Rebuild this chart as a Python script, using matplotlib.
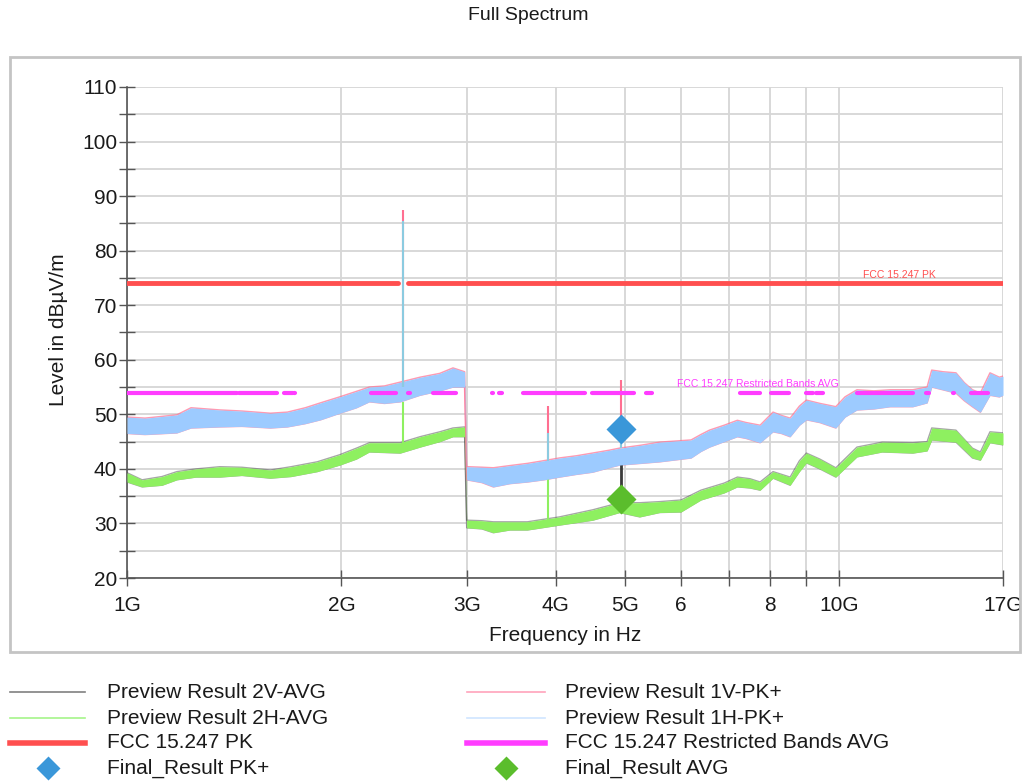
import numpy as np
import matplotlib
matplotlib.use("Agg")
import matplotlib.pyplot as plt
from matplotlib.lines import Line2D
from matplotlib.patches import Rectangle
from matplotlib.ticker import FixedLocator, NullLocator, MultipleLocator

plt.rcParams['font.family'] = ['Liberation Sans', 'DejaVu Sans']

# --- datos (frecuencia en GHz, nivel en dBµV/m) ---
# banda PK+ (1V / 1H): límite inferior y superior del ruido
pk_freq = [1.00, 1.06, 1.175, 1.23, 1.35, 1.45, 1.59, 1.68, 1.78, 1.87, 1.99, 2.10, 2.19, 2.30,
           2.42, 2.58, 2.75, 2.87, 2.98,
           3.00, 3.15, 3.27, 3.45, 3.65, 3.85, 4.05, 4.28, 4.51, 4.75, 4.92, 5.25, 5.60, 6.20,
           6.40, 6.58, 6.90, 7.20, 7.40, 7.75, 8.08, 8.30, 8.54, 8.80, 9.00, 9.40, 9.90, 10.20,
           10.60, 11.20, 11.80, 12.70, 13.30, 13.50, 14.00, 14.60, 15.00, 15.40, 15.80, 16.30,
           16.80, 17.00]
pk_lo = [46.5, 46.3, 46.6, 47.5, 47.7, 47.8, 47.5, 47.7, 48.3, 49.0, 50.2, 51.2, 52.3, 52.0,
         52.3, 53.5, 54.3, 55.0, 55.0,
         38.0, 37.5, 36.7, 37.3, 37.6, 38.0, 38.5, 39.0, 39.4, 40.2, 40.7, 41.0, 41.3, 42.0,
         43.2, 44.0, 45.0, 45.9, 45.6, 44.8, 46.8, 46.5, 45.9, 48.0, 49.0, 48.5, 47.5, 49.5,
         50.8, 51.0, 51.4, 51.4, 52.1, 55.0, 54.5, 53.9, 52.5, 51.4, 50.4, 53.5,
         53.2, 53.5]
pk_hi = [49.5, 49.3, 49.9, 51.2, 50.8, 50.6, 50.2, 50.4, 51.2, 52.1, 53.2, 54.2, 55.0, 55.2,
         55.9, 56.8, 57.5, 58.5, 57.8,
         40.4, 40.3, 40.2, 40.6, 41.0, 41.5, 42.0, 42.4, 42.9, 43.4, 43.8, 44.3, 44.9, 45.3,
         46.3, 47.1, 48.0, 48.9, 48.5, 48.0, 50.4, 49.8, 49.3, 51.5, 52.6, 52.0, 51.4, 53.2,
         54.5, 54.3, 54.5, 54.5, 55.0, 58.1, 57.8, 57.6, 55.8, 54.5, 53.9, 57.6,
         56.8, 57.0]

# banda AVG (2V / 2H)
avg_freq = [1.00, 1.05, 1.12, 1.175, 1.25, 1.35, 1.45, 1.59, 1.70, 1.85, 1.99, 2.10, 2.19,
            2.30, 2.42, 2.58, 2.75, 2.87, 2.98,
            3.00, 3.15, 3.27, 3.45, 3.65, 4.05, 4.51, 4.92, 5.25, 5.60, 6.00, 6.40, 6.90, 7.20,
            7.50, 7.75, 8.08, 8.54, 8.80, 9.00, 9.40, 9.90, 10.60, 11.50, 12.70, 13.30, 13.50,
            14.60, 15.40, 15.80, 16.30, 17.00]
avg_lo = [37.6, 36.7, 37.0, 38.0, 38.5, 38.5, 38.8, 38.3, 38.6, 39.5, 40.7, 41.8, 43.1,
          43.0, 42.9, 44.0, 45.0, 45.9, 45.9,
          29.2, 29.0, 28.3, 28.8, 28.8, 29.7, 30.6, 32.0, 31.2, 32.0, 32.1, 34.3, 35.6, 36.7,
          36.5, 36.1, 38.3, 37.0, 39.5, 41.1, 40.0, 38.5, 42.2, 43.1, 42.9, 43.3, 45.3,
          44.9, 42.0, 41.6, 44.8, 44.4]
avg_hi = [39.3, 38.0, 38.6, 39.5, 40.0, 40.4, 40.3, 39.8, 40.4, 41.3, 42.6, 43.8, 44.8,
          44.8, 44.8, 45.9, 46.8, 47.5, 47.7,
          30.6, 30.5, 30.3, 30.3, 30.3, 31.2, 32.5, 33.8, 33.8, 34.0, 34.3, 36.1, 37.4, 38.5,
          38.2, 37.6, 39.5, 38.5, 41.5, 42.9, 41.8, 40.2, 44.0, 44.9, 44.8, 45.0, 47.5,
          47.1, 43.8, 43.1, 46.8, 46.6]

# picos aislados
spk_freq = [2.44, 3.90, 4.94]
spk_base = [55.0, 41.5, 43.8]
spk_1v_top = [87.5, 51.5, 56.3]
spk_1h_top = [85.5, 46.5, 45.0]
spk_avg_freq = [2.44, 3.90]
spk_avg_lo = [44.8, 30.0]
spk_avg_hi = [52.3, 39.0]
spk_2v_freq = [4.94]
spk_2v_lo = [35.0]
spk_2v_hi = [41.0]

# límites FCC
lim_pk = 74.0
lim_pk_start = [1.0, 2.4835]
lim_pk_stop = [2.4, 17.0]
lim_avg = 54.0
rb_start = [1.0, 1.435, 1.6455, 1.66, 1.7188, 2.2, 2.31, 2.4835, 2.69, 3.26, 3.332, 3.3458,
            3.6, 4.5, 5.35, 7.25, 8.025, 9.0, 9.3, 10.6, 13.25, 14.47, 15.35]
rb_stop = [1.427, 1.6265, 1.6465, 1.71, 1.7222, 2.3, 2.39, 2.5, 2.9, 3.267, 3.339, 3.358,
           4.4, 5.15, 5.46, 7.75, 8.5, 9.2, 9.5, 12.7, 13.4, 14.5, 16.2]

# resultados finales
final_pk_f = [4.94]
final_pk = [47.3]
final_avg_f = [4.94]
final_avg = [34.5]

xtick_vals = [1, 2, 3, 4, 5, 6, 7, 8, 9, 10, 17]
xtick_labels = ['1G', '2G', '3G', '4G', '5G', '6', '', '8', '', '10G', '17G']

# colores
C_2V = '#3a3a3a'
C_2H = '#8ef060'
C_1V = '#ff6f91'
C_1H = '#9dcbff'
C_PK = '#ff4f4f'
C_RB = '#ff3cff'
C_FPK = '#3a97d9'
C_FAVG = '#5bbd2c'

W, H = 1035, 783
fig = plt.figure(figsize=(W / 100, H / 100), dpi=100)

# marco del área del gráfico
fig.patches.append(Rectangle((10 / W, 1 - 652 / H), 1010 / W, 595 / H, transform=fig.transFigure,
                             fill=False, ec='#c4c4c4', lw=2))

ax = fig.add_axes([127 / W, 1 - 578 / H, 876 / W, 491 / H])
ax.set_xscale('log')
ax.set_xlim(1, 17)
ax.set_ylim(20, 110)

# trazas AVG
ax.plot(avg_freq, avg_hi, color=C_2V, lw=1.0, alpha=0.45, zorder=2)
ax.plot(avg_freq, avg_lo, color=C_2V, lw=1.0, alpha=0.45, zorder=2)
ax.fill_between(avg_freq, avg_lo, avg_hi, color=C_2H, lw=0, zorder=3)
ax.vlines(spk_avg_freq, spk_avg_lo, spk_avg_hi, color=C_2H, lw=1.5, zorder=3)
ax.vlines(spk_2v_freq, spk_2v_lo, spk_2v_hi, color=C_2V, lw=2, zorder=3)

# trazas PK+
ax.plot(pk_freq, pk_hi, color=C_1V, lw=1.1, alpha=0.7, zorder=2)
ax.plot(pk_freq, pk_lo, color=C_1V, lw=1.1, alpha=0.7, zorder=2)
ax.fill_between(pk_freq, pk_lo, pk_hi, color=C_1H, lw=0, zorder=3)
ax.vlines(spk_freq, spk_base, spk_1v_top, color=C_1V, lw=1.5, zorder=3)
ax.vlines(spk_freq, spk_base, spk_1h_top, color='#8ccbe0', lw=1.5, zorder=3)

# límites
for a, b in zip(lim_pk_start, lim_pk_stop):
    ax.plot([a, b], [lim_pk, lim_pk], color=C_PK, lw=3.5, solid_capstyle='round', zorder=4)
for a, b in zip(rb_start, rb_stop):
    ax.plot([a, b], [lim_avg, lim_avg], color=C_RB, lw=3, solid_capstyle='round', zorder=4)
ax.text(10.8, lim_pk + 0.6, 'FCC 15.247 PK', color=C_PK, fontsize=7.5, va='bottom', ha='left')
ax.text(5.93, lim_avg + 0.6, 'FCC 15.247 Restricted Bands AVG', color=C_RB, fontsize=7.5,
        va='bottom', ha='left')

# resultados finales
ax.plot(final_pk_f, final_pk, 'D', color=C_FPK, ms=15, mec='none', zorder=5)
ax.plot(final_avg_f, final_avg, 'D', color=C_FAVG, ms=15, mec='none', zorder=5)

# ejes
ax.xaxis.set_major_locator(FixedLocator(xtick_vals))
ax.set_xticklabels(xtick_labels)
ax.xaxis.set_minor_locator(NullLocator())
ax.yaxis.set_major_locator(MultipleLocator(10))
ax.yaxis.set_minor_locator(MultipleLocator(5))
ax.grid(True, which='major', axis='x', color='#d6d6d6', lw=1.3, zorder=0)
ax.grid(True, which='both', axis='y', color='#d6d6d6', lw=1.3, zorder=0)
ax.set_axisbelow(True)
for s in ['top', 'right']:
    ax.spines[s].set_visible(False)
for s in ['left', 'bottom']:
    ax.spines[s].set_color('#555555')
    ax.spines[s].set_linewidth(1.2)
ax.tick_params(which='both', direction='inout', length=12, width=1, color='#555555',
               labelsize=15, labelcolor='#1a1a1a')
ax.tick_params(axis='y', pad=1)
ax.tick_params(axis='x', pad=7)

ax.set_xlabel('Frequency in Hz', fontsize=15, color='#1a1a1a')
ax.set_ylabel('Level in dBµV/m', fontsize=15, color='#1a1a1a')
ax.xaxis.set_label_coords(0.5, (578 - 626) / 491)
ax.yaxis.set_label_coords((68 - 127) / 876, 0.505)

fig.text(528 / W, 1 - 16 / H, 'Full Spectrum', fontsize=14, ha='center', va='center',
         color='#1a1a1a')

# leyenda dibujada a mano (dos columnas)
leg_rows = [692, 718, 743, 768]
leg_col1 = [('Preview Result 2V-AVG', 'line', '#808080', 1.2),
            ('Preview Result 2H-AVG', 'line', '#a6f58a', 1.2),
            ('FCC 15.247 PK', 'line', C_PK, 4),
            ('Final_Result PK+', 'diamond', C_FPK, 0)]
leg_col2 = [('Preview Result 1V-PK+', 'line', '#ffa3bb', 1.2),
            ('Preview Result 1H-PK+', 'line', '#cfe5ff', 1.2),
            ('FCC 15.247 Restricted Bands AVG', 'line', C_RB, 4),
            ('Final_Result AVG', 'diamond', C_FAVG, 0)]
for items, x0, x1, xt in [(leg_col1, 10, 85, 107), (leg_col2, 467, 545, 565)]:
    for (lab, kind, col, lw), yy in zip(items, leg_rows):
        yf = 1 - yy / H
        if kind == 'line':
            fig.add_artist(Line2D([x0 / W, x1 / W], [yf, yf], color=col, lw=lw,
                                  transform=fig.transFigure))
        else:
            fig.add_artist(Line2D([(x0 + x1) / 2 / W], [yf], marker='D', ms=12, color=col,
                                  mec='none', transform=fig.transFigure))
        fig.text(xt / W, yf, lab, fontsize=15, va='center', ha='left', color='#1a1a1a')

fig.savefig('out.png', dpi=100)
